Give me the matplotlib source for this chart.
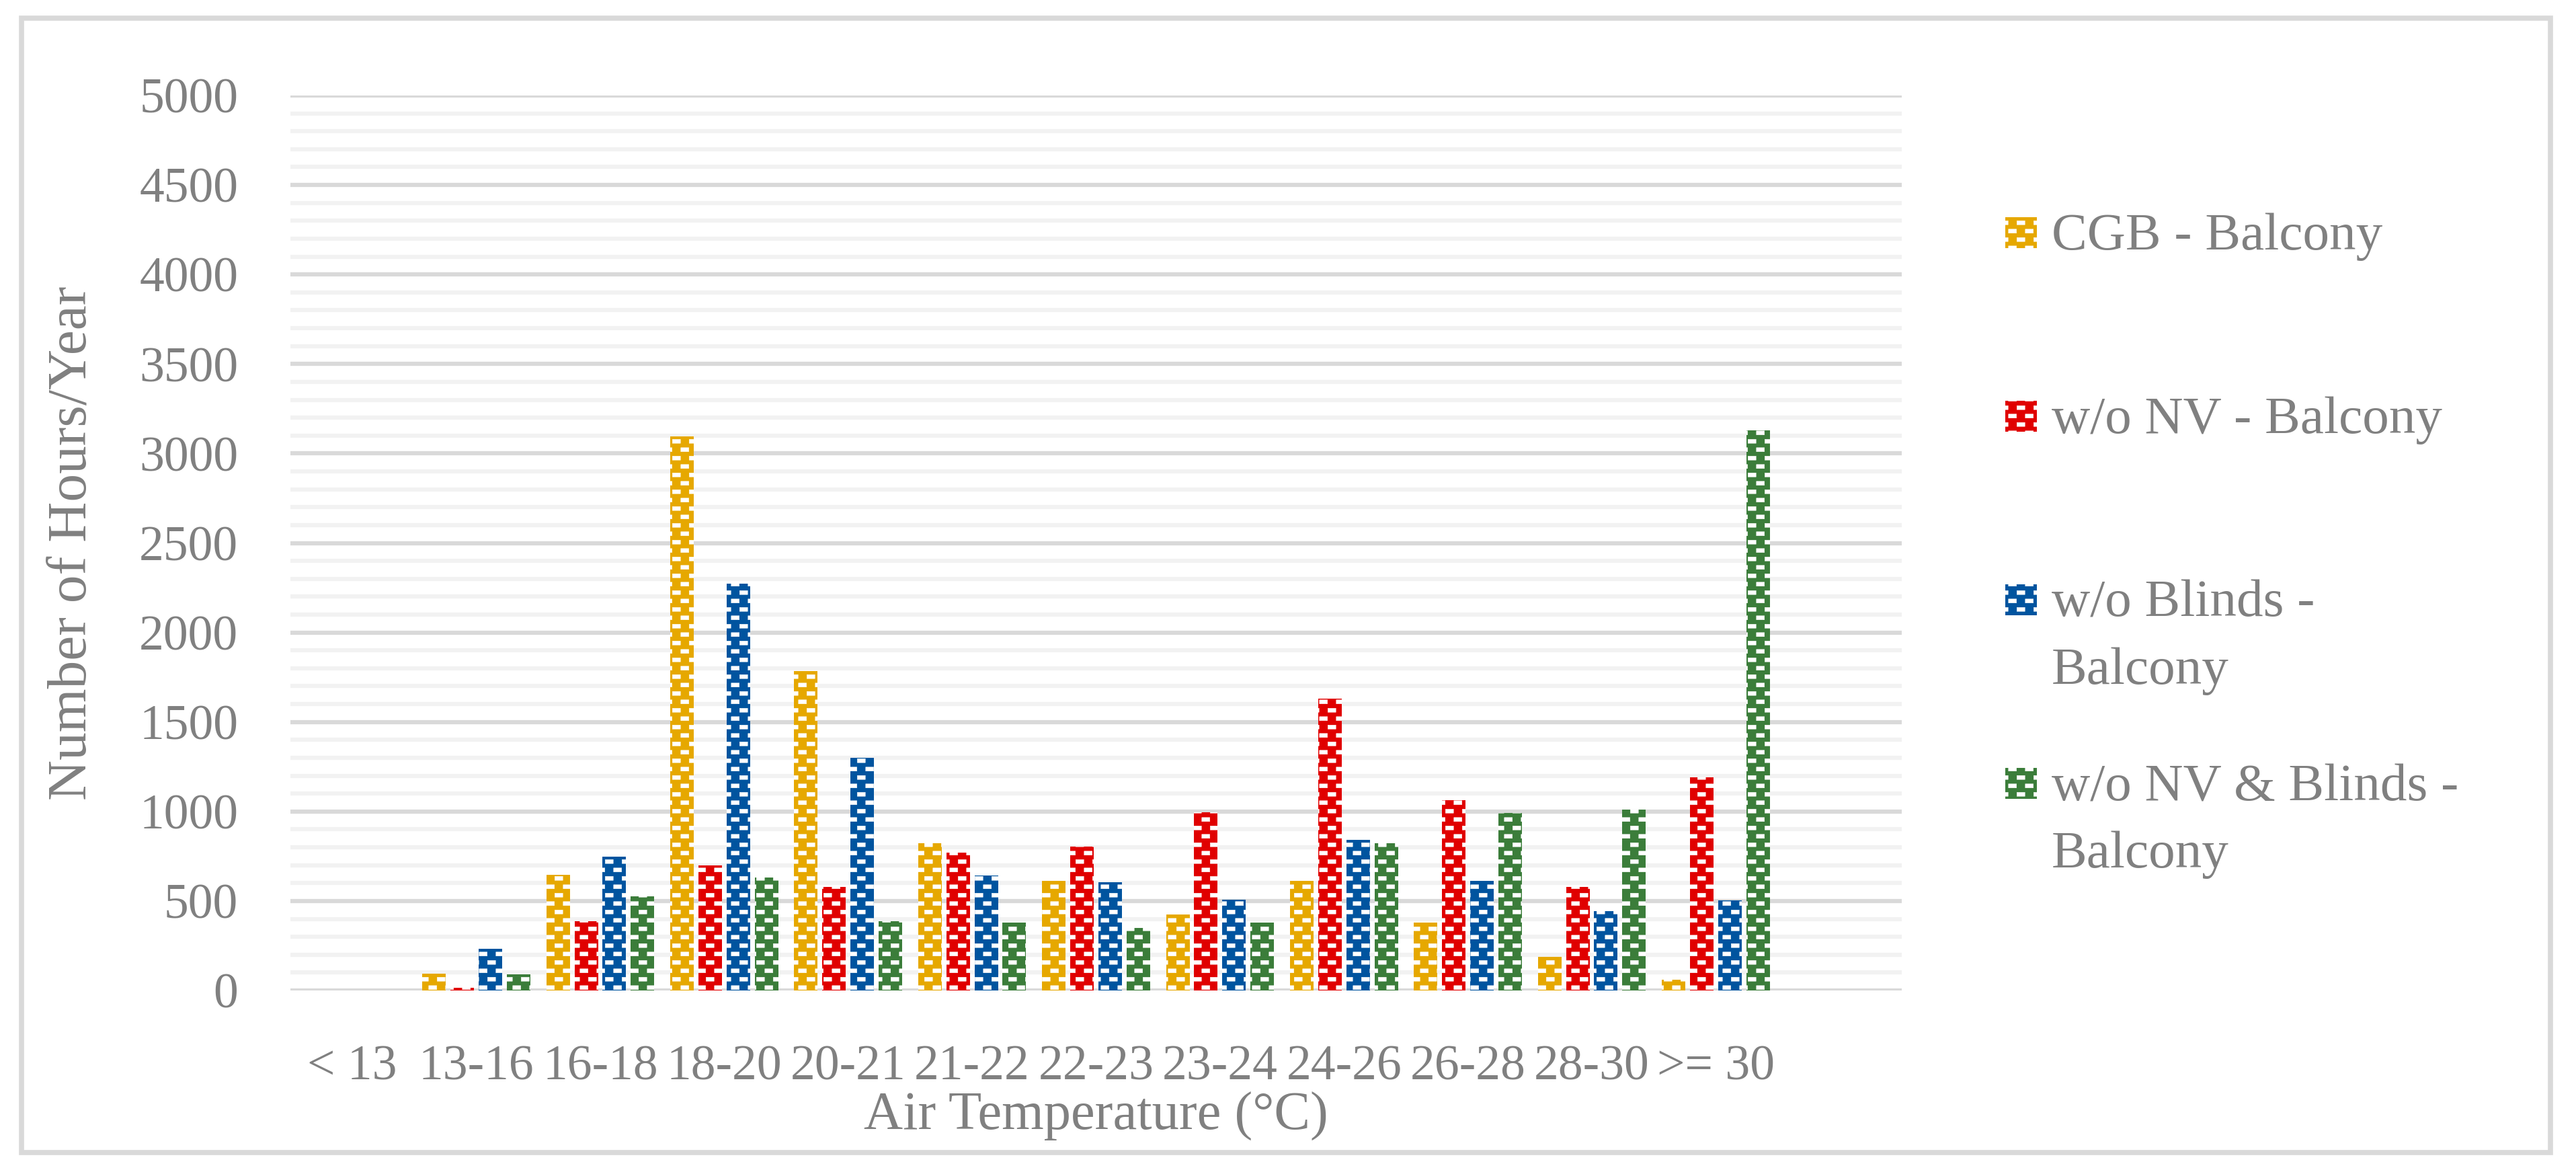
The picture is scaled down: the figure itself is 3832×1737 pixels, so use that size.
import textwrap
import numpy as np
import matplotlib
matplotlib.use("Agg")
import matplotlib.pyplot as plt
import matplotlib.hatch as mhatch
from matplotlib.patches import Rectangle

categories = ["< 13", "13-16", "16-18", "18-20", "20-21", "21-22", "22-23",
              "23-24", "24-26", "26-28", "28-30", ">= 30"]

cgb_balcony = [0, 95, 645, 3095, 1785, 822, 612, 424, 614, 378, 186, 60]
wo_nv_balcony = [0, 14, 388, 700, 580, 770, 803, 996, 1630, 1064, 578, 1190]
wo_blinds_balcony = [0, 232, 746, 2274, 1298, 642, 604, 508, 840, 614, 442, 505]
wo_nv_blinds_balcony = [0, 90, 526, 632, 388, 378, 350, 380, 824, 990, 1012, 3130]

series_labels = ["CGB - Balcony", "w/o NV - Balcony", "w/o Blinds - Balcony",
                 "w/o NV & Blinds - Balcony"]
series_colors = ["#E6A800", "#E00000", "#00549F", "#3B7D3A"]


class BrickDashes(mhatch.HatchPatternBase):
    """Staggered small white dashes, close to the Excel pattern fill."""
    filled = True

    def __init__(self, hatch, density):
        self.rects = []
        if "*" in hatch:
            n = 4
            step = 1.0 / n
            w, h = 0.12, 0.06
            for i in range(n):
                for j in range(n):
                    self.rects.append((step * i + 0.1875, step * j + 0.0625))
                    self.rects.append((step * i + 0.0625, step * j + 0.1875))
            self.w, self.h = w, h
        self.num_vertices = len(self.rects) * 5

    def set_vertices_and_codes(self, vertices, codes):
        from matplotlib.path import Path
        k = 0
        for cx, cy in self.rects:
            x0, x1 = cx - self.w / 2, cx + self.w / 2
            y0, y1 = cy - self.h / 2, cy + self.h / 2
            vertices[k:k + 5] = [(x0, y0), (x1, y0), (x1, y1), (x0, y1), (x0, y0)]
            codes[k:k + 5] = [Path.MOVETO, Path.LINETO, Path.LINETO,
                              Path.LINETO, Path.CLOSEPOLY]
            k += 5


mhatch._hatch_types = [BrickDashes]

plt.rcParams["font.family"] = ["Liberation Serif", "DejaVu Serif"]
plt.rcParams["hatch.linewidth"] = 0.3

W, H = 3832, 1737
fig = plt.figure(figsize=(W / 100, H / 100), dpi=100)
gray = "#808080"

# frame around the whole figure
fig.patches.append(Rectangle((32 / W, 1 - 1714 / H), (3794 - 32) / W, (1714 - 27) / H,
                             transform=fig.transFigure, fill=False,
                             edgecolor="#D9D9D9", linewidth=5.5))

ax = fig.add_axes([432 / W, 1 - 1473 / H, (2829 - 432) / W, (1473 - 142) / H])

all_series = [cgb_balcony, wo_nv_balcony, wo_blinds_balcony, wo_nv_blinds_balcony]
x = np.arange(len(categories))
pitch = 0.227
width = 0.19
for i, (vals, col) in enumerate(zip(all_series, series_colors)):
    ax.bar(x + (i - 1.5) * pitch, vals, width, color=col, edgecolor="white",
           linewidth=0, hatch="*", zorder=3)

ax.set_xlim(-0.5, len(categories) + 0.5)
ax.set_ylim(0, 5000)
ax.set_yticks(np.arange(0, 5001, 500))
ax.set_yticks(np.arange(0, 5001, 100), minor=True)
ax.grid(axis="y", which="minor", color="#F2F2F2", linewidth=4.5, zorder=0)
ax.grid(axis="y", which="major", color="#D9D9D9", linewidth=4.5, zorder=1)
ax.set_xticks(x)
ax.set_xticklabels(categories)
for s in ax.spines.values():
    s.set_visible(False)
ax.tick_params(axis="both", which="both", length=0, colors=gray, labelsize=53)
ax.tick_params(axis="y", pad=56)
ax.tick_params(axis="x", pad=58)
ax.set_xlabel("Air Temperature (°C)", color=gray, fontsize=58, labelpad=2)
ax.set_ylabel("Number of Hours/Year", color=gray, fontsize=60, labelpad=44)

# legend drawn by hand, entries wrapped like the original
for i, (lab, col) in enumerate(zip(series_labels, series_colors)):
    cy = 346 + i * 273
    fig.patches.append(Rectangle((2983 / W, 1 - (cy + 23) / H), 47 / W, 46 / H,
                                 transform=fig.transFigure, facecolor=col,
                                 edgecolor="white", linewidth=0, hatch="*"))
    for j, line in enumerate(textwrap.wrap(lab, 18)):
        fig.text(3052 / W, 1 - (cy + 25 + j * 100) / H, line, color=gray,
                 fontsize=57, va="baseline", ha="left")

fig.savefig("out.png", dpi=100)
